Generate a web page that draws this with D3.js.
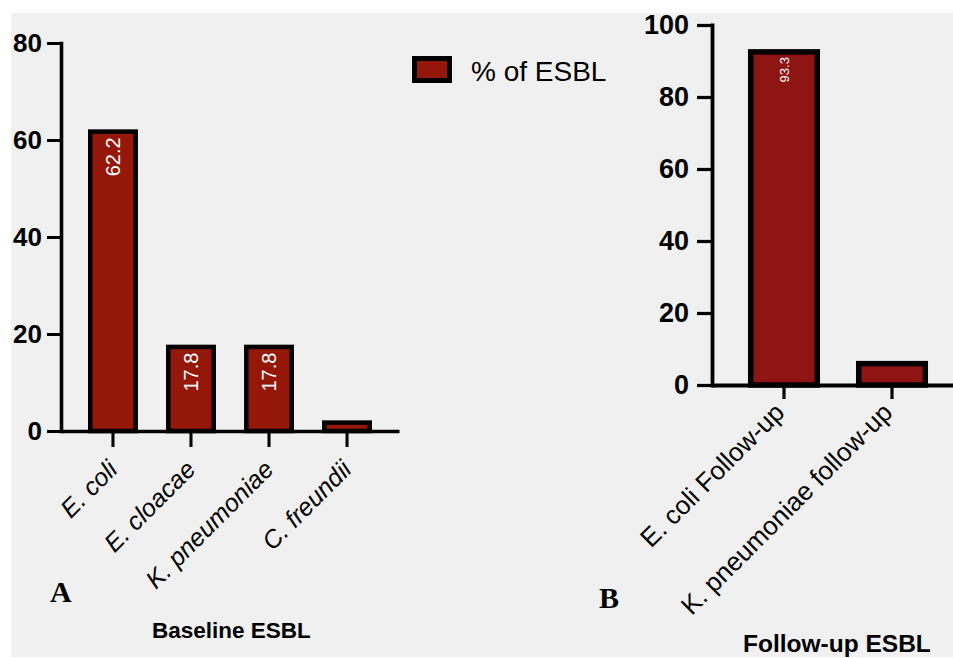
<!DOCTYPE html>
<html>
<head>
<meta charset="utf-8">
<script src="https://cdn.jsdelivr.net/npm/d3@7"></script>
<style>
  html, body { margin: 0; padding: 0; background: #ffffff; }
  svg { display: block; }
</style>
</head>
<body>
<svg id="chart" width="953" height="658"></svg>
<script>
// Panel A: baseline ESBL producers (% of isolates)
const baselineCategories = ["E. coli", "E. cloacae", "K. pneumoniae", "C. freundii"];
const baselineValues = [62.2, 17.8, 17.8, 2.2];
const baselineLabels = ["62.2", "17.8", "17.8", null];
const baselineTicks = [0, 20, 40, 60, 80];

// Panel B: follow-up ESBL producers (% of isolates)
const followCategories = ["E. coli Follow-up", "K. pneumoniae follow-up"];
const followValues = [93.3, 6.7];
const followLabels = ["93.3", null];
const followTicks = [0, 20, 40, 60, 80, 100];

const seriesName = "% of ESBL";

const svg = d3.select("#chart");
const sans = "'Liberation Sans', Arial, Helvetica, sans-serif";
const serif = "'Liberation Serif', 'Times New Roman', serif";

// light grey backdrop
svg.append("rect").attr("x", 11).attr("y", 13).attr("width", 942).attr("height", 644)
  .attr("fill", "#f0f0f0");

function drawPanel(cfg) {
  const g = svg.append("g");
  const y = d3.scaleLinear().domain(cfg.yDomain).range([cfg.y0, cfg.y1]);
  const x = d3.scaleBand().domain(cfg.categories).range(cfg.xRange)
    .paddingInner(cfg.padIn).paddingOuter(cfg.padOut);

  // bars, border kept inside the bar outline
  const sw = cfg.barStroke;
  g.selectAll("rect.bar").data(cfg.values).enter().append("rect")
    .attr("class", "bar")
    .attr("x", (d, i) => x(cfg.categories[i]) + sw / 2)
    .attr("y", d => y(d) + sw / 2)
    .attr("width", x.bandwidth() - sw)
    .attr("height", d => Math.max(0, y(0) - y(d) - sw / 2))
    .attr("fill", cfg.fill)
    .attr("stroke", "#000")
    .attr("stroke-width", sw);

  // value labels written up the bar
  cfg.labels.forEach((lab, i) => {
    if (!lab) return;
    const cx = x(cfg.categories[i]) + x.bandwidth() / 2;
    g.append("text")
      .attr("transform", `translate(${cx},${y(cfg.values[i]) + cfg.labelInset}) rotate(-90)`)
      .attr("text-anchor", "end")
      .attr("dy", "0.36em")
      .attr("fill", "#fff")
      .attr("font-family", sans)
      .attr("font-size", cfg.labelSize)
      .text(lab);
  });

  // y axis
  const ya = g.append("g")
    .attr("transform", `translate(${cfg.xAxisLeft},0)`)
    .call(d3.axisLeft(y).tickValues(cfg.ticks).tickSize(cfg.yTickSize)
      .tickSizeOuter(0).tickPadding(cfg.yTickPad).tickFormat(d3.format("d")));
  ya.select(".domain").attr("stroke-width", cfg.axisWidth).attr("stroke-linecap", "square");
  ya.selectAll(".tick line").attr("stroke-width", cfg.axisWidth * 0.85);
  ya.selectAll(".tick text")
    .attr("font-family", sans).attr("font-weight", "bold")
    .attr("font-size", cfg.yFontSize).attr("fill", "#000");

  // x axis
  const xa = g.append("g")
    .attr("transform", `translate(0,${y(0)})`)
    .call(d3.axisBottom(x).tickSize(cfg.xTickSize).tickSizeOuter(0).tickFormat(""));
  xa.select(".domain").attr("stroke-width", cfg.axisWidth);
  xa.selectAll(".tick line").attr("stroke-width", cfg.axisWidth * 0.85);

  // slanted category names
  cfg.categories.forEach(c => {
    const cx = x(c) + x.bandwidth() / 2;
    g.append("text")
      .attr("transform", `translate(${cx + cfg.catDx},${cfg.catY}) rotate(-45)`)
      .attr("text-anchor", "end")
      .attr("font-family", sans)
      .attr("font-style", cfg.italic ? "italic" : "normal")
      .attr("font-size", cfg.catSize)
      .attr("fill", "#000")
      .text(c);
  });
}

drawPanel({
  categories: baselineCategories, values: baselineValues, labels: baselineLabels,
  ticks: baselineTicks, yDomain: [0, 80], y0: 431, y1: 43,
  xRange: [61, 399], padIn: 0.36, padOut: 0.346, xAxisLeft: 61,
  fill: "#951709", barStroke: 4.5, labelInset: 8, labelSize: 20,
  axisWidth: 3.6, yTickSize: 14, yTickPad: 5, yFontSize: 26,
  xTickSize: 16, catDx: 6, catY: 471, catSize: 25, italic: true
});

drawPanel({
  categories: followCategories, values: followValues, labels: followLabels,
  ticks: followTicks, yDomain: [0, 100], y0: 385, y1: 25,
  xRange: [712, 964], padIn: 0.333, padOut: 0.333, xAxisLeft: 712,
  fill: "#8e1513", barStroke: 5.5, labelInset: 8, labelSize: 13,
  axisWidth: 3.8, yTickSize: 15, yTickPad: 8, yFontSize: 27,
  xTickSize: 14, catDx: 2, catY: 414, catSize: 26, italic: false
});

// legend
svg.append("rect").attr("x", 414.5).attr("y", 58.5).attr("width", 35).attr("height", 22)
  .attr("fill", "#951709").attr("stroke", "#000").attr("stroke-width", 5);
svg.append("text").attr("x", 471).attr("y", 81)
  .attr("font-family", sans).attr("font-size", 28).attr("fill", "#000")
  .text(seriesName);

// panel letters and group titles
svg.append("text").attr("x", 50).attr("y", 602)
  .attr("font-family", serif).attr("font-weight", "bold").attr("font-size", 30)
  .text("A");
svg.append("text").attr("x", 599).attr("y", 608)
  .attr("font-family", serif).attr("font-weight", "bold").attr("font-size", 30)
  .text("B");
svg.append("text").attr("x", 152).attr("y", 638)
  .attr("font-family", sans).attr("font-weight", "bold").attr("font-size", 22.5)
  .text("Baseline ESBL");
svg.append("text").attr("x", 743).attr("y", 652)
  .attr("font-family", sans).attr("font-weight", "bold").attr("font-size", 24.5)
  .text("Follow-up ESBL");
</script>
</body>
</html>
